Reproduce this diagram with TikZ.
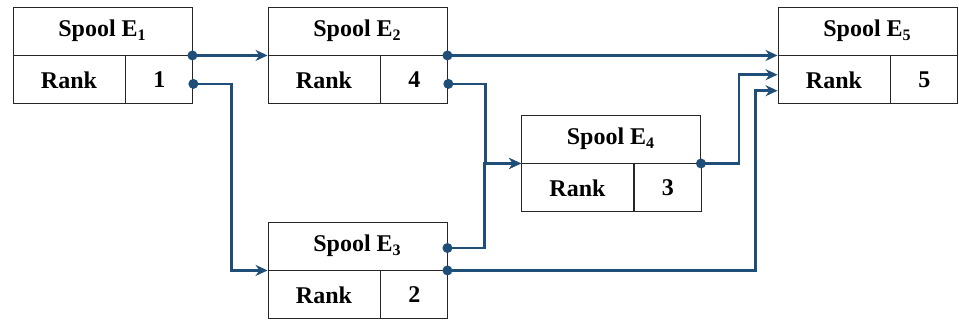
\documentclass[tikz,border=0pt]{standalone}
\usepackage{fontspec}
\setmainfont{Liberation Serif}
\usetikzlibrary{arrows.meta}
\usetikzlibrary{positioning}
\definecolor{linkblue}{RGB}{31,78,121}

\begin{document}
\begin{tikzpicture}[node distance=127.5pt,on grid,
    title/.style={draw=black!85,line width=0.45pt,minimum width=89.5pt,minimum height=24pt,inner sep=0pt,font=\fontsize{12}{14}\selectfont\bfseries},
    rankcell/.style={title,minimum width=56pt,anchor=north west},
    valcell/.style={title,minimum width=33.5pt,anchor=west},
    link/.style={draw=linkblue,line width=1.3pt,-{Stealth[length=6pt,width=5.5pt]}},
    dot/.style={fill=linkblue,circle,inner sep=0pt,minimum size=5pt}]
    \useasboundingbox (-51.25pt,15.5pt) rectangle (428.25pt,-145pt);
    % spools
    \node[title] (t1) {Spool E\textsubscript{1}};
    \node[title] [right=of t1] (t2) {Spool E\textsubscript{2}};
    \node[title] [right=255pt of t2] (t5) {Spool E\textsubscript{5}};
    \node[title] [below right=54pt and 126.75pt of t2] (t4) {Spool E\textsubscript{4}};
    \node[title] [below=107.5pt of t2] (t3) {Spool E\textsubscript{3}};
    \foreach \s/\r in {1/1,2/4,3/2,4/3,5/5} {
        \node[rankcell] (r\s) at (t\s.south west) {Rank};
        \node[valcell] (v\s) at (r\s.east) {\r};
    }
    % links
    \draw[link] (t1.south east) -- (t2.south west);
    \draw[link] ([yshift=-2pt]v1.east) -- ++(19pt,0) |- (t3.south west);
    \draw[link] (t2.south east) -- (t5.south west);
    \draw[link] ([yshift=-2pt]v2.east) -- ++(18.5pt,0) |- (t4.south west);
    \draw[link] ([yshift=-1pt]t3.east) -- ++(18.5pt,0) |- (t4.south west);
    \draw[link] (t3.south east) -- ++(154pt,0) |- ([yshift=-5.4pt]r5.west);
    \draw[link] (t4.south east) -- ++(19pt,0) |- ([yshift=2.6pt]r5.west);
    \foreach \p in {t1.south east,t2.south east,t3.south east,t4.south east}
        \node[dot] at (\p) {};
    \node[dot] at ([yshift=-2pt]v1.east) {};
    \node[dot] at ([yshift=-2pt]v2.east) {};
    \node[dot] at ([yshift=-1pt]t3.east) {};
\end{tikzpicture}
\end{document}
